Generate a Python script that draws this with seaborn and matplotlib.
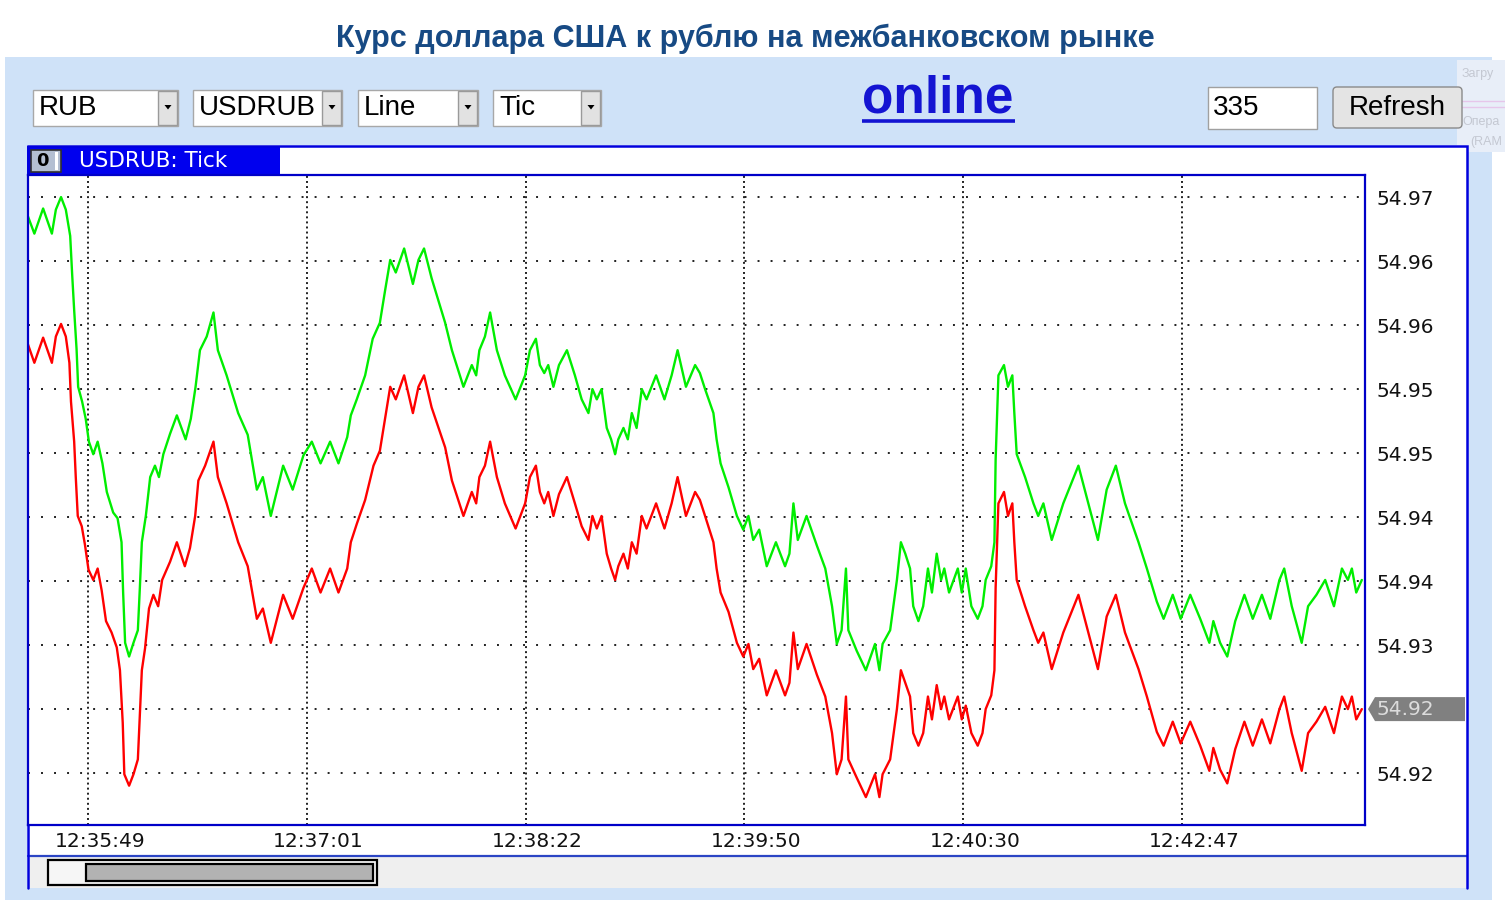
import matplotlib
matplotlib.use("Agg")
import pandas as pd
from matplotlib import pyplot as plt
from matplotlib.patches import Rectangle, FancyBboxPatch, Polygon
from matplotlib.transforms import ScaledTranslation
import seaborn as sns

# USDRUB tick chart, one x step = one quote
bid_tick = [0.0, 1.6, 3.8, 6.0, 7.0, 8.3, 9.5, 10.4, 10.8, 11.6,
            12.0, 12.5, 13.5, 14.3, 15.2, 16.4, 17.5, 18.5, 19.6, 21.0,
            22.3, 23.1, 23.8, 24.2, 25.4, 26.5, 27.6, 28.1, 28.6, 29.4,
            30.4, 31.5, 32.7, 33.7, 35.7, 37.4, 39.4, 40.7, 42.0, 42.8,
            44.5, 46.6, 47.7, 49.9, 52.8, 55.2, 57.5, 59.0, 61.0, 64.1,
            66.5, 69.2, 71.3, 73.5, 75.9, 78.0, 80.2, 81.1, 82.6, 84.7,
            86.8, 88.4, 89.7, 91.0, 92.4, 94.5, 96.7, 98.1, 99.5, 101.4,
            104.8, 106.5, 109.4, 111.5, 112.6, 113.4, 114.8, 116.1, 117.8, 119.8,
            122.5, 124.9, 126.1, 127.6, 128.6, 129.7, 130.7, 132.0, 133.4, 135.4,
            137.4, 139.1, 140.8, 141.8, 142.9, 144.1, 145.4, 146.5, 147.5, 148.3,
            149.6, 150.7, 151.7, 152.9, 154.2, 155.4, 157.8, 159.9, 161.7, 163.2,
            165.3, 167.6, 168.8, 170.1, 172.2, 173.0, 174.0, 176.0, 178.1, 179.7,
            181.0, 182.2, 183.7, 185.6, 187.9, 190.2, 191.3, 192.3, 193.4, 195.6,
            198.2, 200.3, 202.0, 203.2, 204.4, 205.5, 206.1, 208.2, 210.5, 212.8,
            213.9, 214.7, 216.6, 218.3, 219.3, 220.4, 221.6, 222.4, 223.7, 224.9,
            226.1, 227.1, 228.3, 229.4, 230.2, 231.4, 233.6, 234.6, 235.6, 237.0,
            238.6, 239.8, 240.6, 242.0, 242.8, 243.1, 243.8, 245.2, 246.2, 247.3,
            247.8, 248.4, 250.5, 252.6, 253.8, 255.1, 257.2, 260.1, 263.9, 266.4,
            268.8, 271.0, 273.3, 275.6, 279.0, 281.1, 283.6, 285.3, 287.6, 289.6,
            292.0, 294.5, 296.8, 297.8, 299.5, 301.3, 303.3, 305.6, 307.7, 310.0,
            312.1, 314.4, 315.6, 317.5, 320.0, 321.6, 323.7, 325.9, 328.1, 330.1,
            331.6, 332.6, 333.7, 335.1]
bid_price = [54.9567, 54.9551, 54.9573, 54.9551, 54.9574, 54.9585, 54.9574, 54.9551, 54.9517, 54.9482,
             54.9451, 54.9417, 54.9408, 54.9392, 54.9370, 54.9361, 54.9371, 54.9352, 54.9325, 54.9315,
             54.9302, 54.9282, 54.9236, 54.9191, 54.9181, 54.9191, 54.9204, 54.9243, 54.9282, 54.9301,
             54.9336, 54.9348, 54.9338, 54.9361, 54.9377, 54.9394, 54.9373, 54.9389, 54.9417, 54.9448,
             54.9461, 54.9482, 54.9451, 54.9428, 54.9394, 54.9373, 54.9327, 54.9336, 54.9306, 54.9348,
             54.9327, 54.9354, 54.9371, 54.9350, 54.9371, 54.9350, 54.9371, 54.9394, 54.9410, 54.9431,
             54.9461, 54.9474, 54.9502, 54.9530, 54.9519, 54.9540, 54.9507, 54.9530, 54.9540, 54.9512,
             54.9477, 54.9448, 54.9417, 54.9438, 54.9428, 54.9451, 54.9461, 54.9482, 54.9451, 54.9428,
             54.9406, 54.9428, 54.9451, 54.9461, 54.9438, 54.9428, 54.9438, 54.9417, 54.9436, 54.9451,
             54.9428, 54.9408, 54.9396, 54.9417, 54.9406, 54.9417, 54.9384, 54.9371, 54.9361, 54.9373,
             54.9384, 54.9371, 54.9394, 54.9384, 54.9417, 54.9406, 54.9428, 54.9406, 54.9428, 54.9451,
             54.9417, 54.9438, 54.9431, 54.9417, 54.9394, 54.9371, 54.9350, 54.9333, 54.9306, 54.9294,
             54.9305, 54.9283, 54.9292, 54.9260, 54.9282, 54.9260, 54.9271, 54.9315, 54.9283, 54.9305,
             54.9278, 54.9259, 54.9227, 54.9191, 54.9204, 54.9259, 54.9204, 54.9188, 54.9171, 54.9191,
             54.9171, 54.9191, 54.9204, 54.9248, 54.9282, 54.9271, 54.9259, 54.9227, 54.9216, 54.9227,
             54.9259, 54.9239, 54.9269, 54.9248, 54.9259, 54.9239, 54.9259, 54.9239, 54.9251, 54.9227,
             54.9216, 54.9227, 54.9248, 54.9260, 54.9282, 54.9354, 54.9428, 54.9438, 54.9417, 54.9428,
             54.9394, 54.9361, 54.9338, 54.9317, 54.9306, 54.9315, 54.9283, 54.9315, 54.9348, 54.9315,
             54.9283, 54.9329, 54.9348, 54.9315, 54.9283, 54.9259, 54.9228, 54.9216, 54.9237, 54.9218,
             54.9237, 54.9216, 54.9194, 54.9214, 54.9195, 54.9183, 54.9213, 54.9237, 54.9216, 54.9239,
             54.9218, 54.9248, 54.9259, 54.9227, 54.9194, 54.9227, 54.9237, 54.9250, 54.9227, 54.9259,
             54.9248, 54.9259, 54.9239, 54.9248]

ask_tick = [0.0, 1.6, 3.8, 6.0, 7.0, 8.3, 9.5, 10.6, 11.1, 11.6,
            12.2, 12.6, 13.6, 14.5, 15.3, 16.4, 17.5, 18.7, 19.8, 21.4,
            22.5, 23.5, 23.9, 24.4, 25.4, 26.5, 27.6, 28.1, 28.6, 29.6,
            30.7, 31.9, 32.9, 34.0, 35.7, 37.4, 39.6, 40.9, 42.1, 43.2,
            44.9, 46.6, 47.7, 49.9, 52.8, 55.2, 57.5, 59.0, 61.0, 64.1,
            66.5, 69.2, 71.3, 73.5, 75.9, 78.0, 80.2, 81.1, 82.6, 84.7,
            86.6, 88.4, 89.7, 91.0, 92.4, 94.5, 96.7, 98.1, 99.5, 101.4,
            104.8, 106.5, 109.4, 111.5, 112.6, 113.4, 114.8, 116.1, 117.8, 119.8,
            122.5, 124.9, 126.1, 127.6, 128.6, 129.7, 130.7, 132.0, 133.4, 135.4,
            137.4, 139.1, 140.8, 141.8, 142.9, 144.1, 145.4, 146.5, 147.5, 148.3,
            149.6, 150.7, 151.7, 152.9, 154.2, 155.4, 157.8, 159.9, 161.7, 163.2,
            165.3, 167.6, 168.8, 170.1, 172.2, 173.0, 174.0, 176.0, 178.1, 179.7,
            181.0, 182.2, 183.7, 185.6, 187.9, 190.2, 191.3, 192.3, 193.4, 195.6,
            198.2, 200.3, 202.0, 203.2, 204.4, 205.5, 206.1, 208.2, 210.5, 212.8,
            213.9, 214.7, 216.6, 218.3, 219.3, 220.4, 221.6, 222.4, 223.7, 224.9,
            226.1, 227.1, 228.3, 229.4, 230.2, 231.4, 233.6, 234.6, 235.6, 237.0,
            238.6, 239.8, 240.6, 242.0, 242.8, 243.1, 243.8, 245.2, 246.2, 247.3,
            247.8, 248.4, 250.5, 252.6, 253.8, 255.1, 257.2, 260.1, 263.9, 266.4,
            268.8, 271.0, 273.3, 275.6, 279.0, 281.1, 283.6, 285.3, 287.6, 289.6,
            292.0, 294.5, 296.8, 297.8, 299.5, 301.3, 303.3, 305.6, 307.7, 310.0,
            312.1, 314.4, 315.6, 317.5, 320.0, 321.6, 323.7, 325.9, 328.1, 330.1,
            331.6, 332.6, 333.7, 335.1]
ask_price = [54.9679, 54.9664, 54.9686, 54.9664, 54.9685, 54.9696, 54.9685, 54.9662, 54.9628, 54.9597,
             54.9563, 54.9530, 54.9517, 54.9502, 54.9482, 54.9471, 54.9482, 54.9463, 54.9438, 54.9420,
             54.9415, 54.9394, 54.9350, 54.9306, 54.9294, 54.9306, 54.9317, 54.9354, 54.9394, 54.9417,
             54.9451, 54.9461, 54.9451, 54.9471, 54.9489, 54.9505, 54.9484, 54.9502, 54.9530, 54.9562,
             54.9574, 54.9595, 54.9562, 54.9540, 54.9507, 54.9488, 54.9440, 54.9451, 54.9417, 54.9461,
             54.9440, 54.9470, 54.9482, 54.9463, 54.9482, 54.9463, 54.9486, 54.9505, 54.9519, 54.9540,
             54.9572, 54.9586, 54.9614, 54.9641, 54.9630, 54.9651, 54.9620, 54.9641, 54.9651, 54.9625,
             54.9586, 54.9562, 54.9530, 54.9549, 54.9540, 54.9562, 54.9574, 54.9595, 54.9562, 54.9540,
             54.9519, 54.9540, 54.9562, 54.9572, 54.9549, 54.9542, 54.9549, 54.9530, 54.9549, 54.9562,
             54.9540, 54.9519, 54.9507, 54.9528, 54.9519, 54.9528, 54.9494, 54.9484, 54.9471, 54.9484,
             54.9494, 54.9484, 54.9507, 54.9494, 54.9528, 54.9519, 54.9540, 54.9519, 54.9540, 54.9562,
             54.9530, 54.9549, 54.9542, 54.9528, 54.9507, 54.9484, 54.9463, 54.9442, 54.9417, 54.9405,
             54.9417, 54.9396, 54.9405, 54.9373, 54.9394, 54.9373, 54.9384, 54.9428, 54.9396, 54.9417,
             54.9391, 54.9371, 54.9338, 54.9305, 54.9317, 54.9371, 54.9317, 54.9299, 54.9282, 54.9305,
             54.9282, 54.9305, 54.9317, 54.9361, 54.9394, 54.9384, 54.9371, 54.9338, 54.9325, 54.9338,
             54.9371, 54.9350, 54.9384, 54.9361, 54.9371, 54.9350, 54.9371, 54.9350, 54.9371, 54.9338,
             54.9327, 54.9338, 54.9361, 54.9373, 54.9394, 54.9466, 54.9540, 54.9549, 54.9530, 54.9540,
             54.9507, 54.9471, 54.9451, 54.9428, 54.9417, 54.9428, 54.9396, 54.9428, 54.9461, 54.9428,
             54.9396, 54.9440, 54.9461, 54.9428, 54.9394, 54.9371, 54.9342, 54.9327, 54.9348, 54.9327,
             54.9348, 54.9327, 54.9306, 54.9325, 54.9306, 54.9294, 54.9325, 54.9348, 54.9327, 54.9348,
             54.9327, 54.9361, 54.9371, 54.9338, 54.9306, 54.9338, 54.9348, 54.9361, 54.9338, 54.9371,
             54.9361, 54.9371, 54.9350, 54.9361]

time_ticks = [15, 70, 125, 180, 235, 290]
time_labels = ["12:35:49", "12:37:01", "12:38:22", "12:39:50", "12:40:30", "12:42:47"]
price_ticks = [54.9696, 54.9640, 54.9584, 54.9528, 54.9472,
               54.9416, 54.9360, 54.9304, 54.9248, 54.9192]

selects = ["RUB", "USDRUB", "Line", "Tic"]
points_count = "335"

W, H = 1505, 900
sns.set_style("white")
plt.rcParams['font.family'] = ['Liberation Sans', 'DejaVu Sans']

fig = plt.figure(figsize=(W / 100, H / 100), dpi=100)

# page furniture drawn in pixel coordinates
bg = fig.add_axes([0, 0, 1, 1])
bg.set_xlim(0, W)
bg.set_ylim(H, 0)
bg.axis('off')


def box(x0, y0, x1, y1, fc, ec='none', lw=0, z=1):
    bg.add_patch(Rectangle((x0, y0), x1 - x0, y1 - y0, facecolor=fc,
                           edgecolor=ec, linewidth=lw, zorder=z))


bg.text(745, 39, "Курс доллара США к рублю на межбанковском рынке", ha='center',
        va='center', fontsize=22, fontweight='bold', color='#174a84')
box(5, 57, 1492, 900, '#cfe2f8')

# faint overlapped window at the right edge
box(1457, 60, 1505, 152, '#e8eef8', z=1.5)
bg.plot([1457, 1505], [101, 101], color='#e6c6ea', lw=1, zorder=1.6)
bg.plot([1457, 1505], [107, 107], color='#e6c6ea', lw=1, zorder=1.6)
bg.text(1462, 74, "Загру", fontsize=9, color='#c4c8d2', va='center', zorder=1.7)
bg.text(1462, 122, "Опера", fontsize=9, color='#c4c8d2', va='center', zorder=1.7)
bg.text(1470, 142, "(RAM", fontsize=9, color='#c4c8d2', va='center', zorder=1.7)

sel_x = [(33, 178), (193, 342), (358, 478), (493, 601)]
for (x0, x1), txt in zip(sel_x, selects):
    box(x0, 90, x1, 126, 'white', '#a8a8a8', 1, z=2)
    box(x1 - 20, 91, x1 - 1, 125, '#e2e2e2', '#9a9a9a', 1, z=2.1)
    bg.add_patch(Polygon([[x1 - 13.5, 105], [x1 - 6.5, 105], [x1 - 10, 109.5]],
                         closed=True, facecolor='black', edgecolor='none', zorder=2.2))
    bg.text(x0 + 6, 108, txt, ha='left', va='center', fontsize=20, color='black', zorder=3)

bg.text(938, 99, "online", ha='center', va='center', fontsize=37, fontweight='bold',
        color='#1414d2', zorder=3)
bg.plot([862, 1015], [121, 121], color='#1414d2', lw=2.6, solid_capstyle='butt', zorder=3)

box(1208, 87, 1317, 129, 'white', '#a0a0a0', 1, z=2)
bg.text(1213, 108, points_count, ha='left', va='center', fontsize=20, color='black', zorder=3)
bg.add_patch(FancyBboxPatch((1333, 87), 129, 41, boxstyle='round,pad=0,rounding_size=4',
                            facecolor='#e4e4e4', edgecolor='#8a8a8a', linewidth=1, zorder=2))
bg.text(1397, 108, "Refresh", ha='center', va='center', fontsize=20, color='black', zorder=3)

# chart widget frame (no bottom edge), caption tab and scroll bar
box(27, 145, 1468, 888, 'white', z=2)
bg.plot([28, 28, 1467, 1467], [888, 146, 146, 888], color='#0000dd', lw=1.8,
        solid_joinstyle='miter', zorder=3.5)
box(27, 146, 280, 175, '#0000ee', z=2.5)
box(31, 150, 61, 172, '#b4bfd2', '#303030', 1.2, z=2.6)
bg.text(42, 161, "0", ha='center', va='center', fontsize=13, fontweight='bold',
        color='black', family='DejaVu Sans', zorder=2.7)
box(55, 152, 58, 170, 'white', z=2.7)
bg.text(79, 161, "USDRUB: Tick", ha='left', va='center', fontsize=15.5, color='white',
        family='DejaVu Sans', zorder=3)
bg.plot([28, 1467], [856, 856], color='#2b45c4', lw=1.6, zorder=3)
box(29, 857, 1466, 888, '#efefef', z=2.5)
box(48, 860, 377, 885, '#f6f6f6', 'black', 1.6, z=2.6)
box(86, 864, 373, 881, '#b2b2b2', 'black', 1.6, z=2.7)

# plot area
ax = fig.add_axes([28 / W, (H - 825) / H, (1365 - 28) / W, (825 - 175) / H])
ax.set_facecolor('white')

bid = pd.DataFrame({'tick': bid_tick, 'price': bid_price, 'side': 'bid'})
ask = pd.DataFrame({'tick': ask_tick, 'price': ask_price, 'side': 'ask'})
quotes = pd.concat([ask, bid], ignore_index=True)
sns.lineplot(data=quotes, x='tick', y='price', hue='side',
             palette={'ask': '#00ee00', 'bid': '#ff0000'}, estimator=None,
             sort=False, legend=False, linewidth=1.7, ax=ax)

ax.set_xlim(0, 335.9)
ax.set_ylim(54.91466, 54.97153)
ax.set_xlabel('')
ax.set_ylabel('')

last = bid_price[-1]
last_label = '%.2f' % last

ax.set_xticks(time_ticks)
ax.set_xticklabels(time_labels, family='DejaVu Sans', fontsize=14.5, color='#111111')
ax.yaxis.tick_right()
ax.set_yticks(price_ticks)
# the row under the current-price marker shows no plain label
ylabels = ['' if abs(p - last) < 0.0005 else '%.2f' % p for p in price_ticks]
ax.set_yticklabels(ylabels, family='DejaVu Sans', fontsize=14.5, color='#111111')
ax.tick_params(axis='both', length=0)
ax.tick_params(axis='x', pad=5)
ax.tick_params(axis='y', pad=8)
shift = ScaledTranslation(0.12, 0, fig.dpi_scale_trans)
for lab in ax.get_xticklabels():
    lab.set_transform(lab.get_transform() + shift)

ax.xaxis.grid(True, color='#202020', linewidth=1.4, linestyle=(0, (1, 1.6)))
ax.yaxis.grid(True, color='#202020', linewidth=1.4, linestyle=(0, (1, 5.7)))
ax.set_axisbelow(True)

for side in ['left', 'right', 'top', 'bottom']:
    ax.spines[side].set_visible(True)
    ax.spines[side].set_color('#0000c8')
    ax.spines[side].set_linewidth(1.6)

# current bid marker on the price scale, placed at the last price's height
y_px = H - ax.transData.transform((0, last))[1]
bg.add_patch(Polygon([[1368, y_px], [1375, y_px - 12], [1465, y_px - 12],
                      [1465, y_px + 12], [1375, y_px + 12]], closed=True,
                     facecolor='#808080', edgecolor='none', zorder=4))
bg.text(1377, y_px, last_label, ha='left', va='center', family='DejaVu Sans',
        fontsize=14.5, color='#dcdcdc', zorder=4.5)

fig.savefig('out.png', dpi=100)
